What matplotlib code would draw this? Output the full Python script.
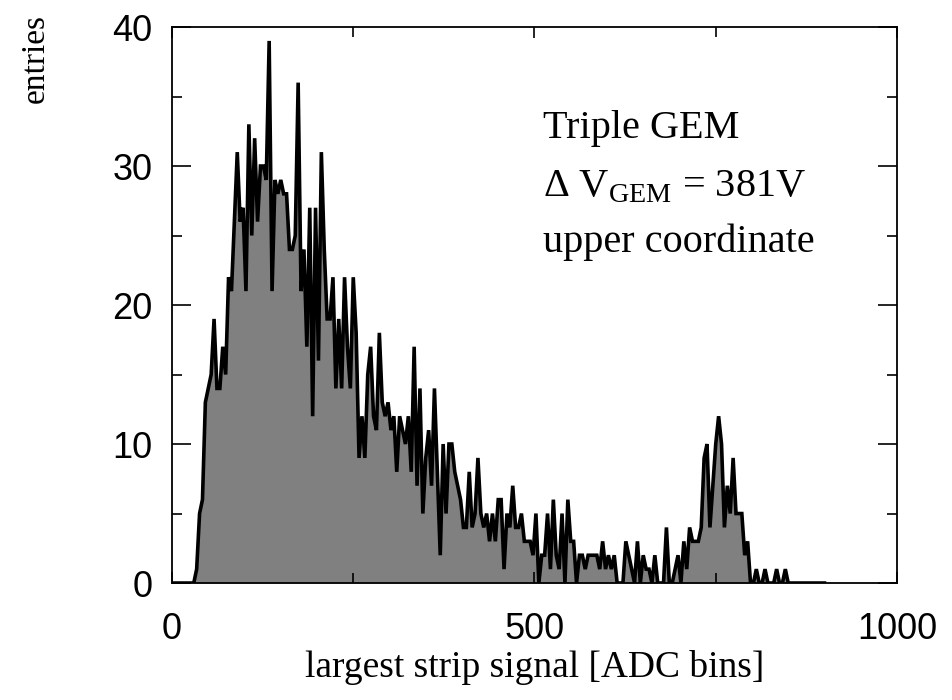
import numpy as np
import matplotlib
matplotlib.use("Agg")
import matplotlib.pyplot as plt
from matplotlib.ticker import MultipleLocator

# histogram: 225 bins of 4 ADC counts, 0..900
bin_width = 4
entries = [
    0, 0, 0, 0, 0, 0, 0, 0, 1, 5,
    6, 13, 14, 15, 19, 14, 14, 17, 15, 22,
    21, 26, 31, 26, 27, 21, 33, 25, 32, 26,
    30, 30, 29, 39, 21, 29, 28, 29, 28, 28,
    24, 24, 25, 36, 21, 24, 17, 27, 12, 27,
    16, 31, 24, 19, 19, 22, 14, 19, 14, 22,
    17, 14, 22, 18, 9, 12, 9, 15, 17, 12,
    11, 18, 13, 12, 13, 11, 12, 8, 12, 11,
    10, 12, 8, 17, 7, 14, 5, 9, 11, 7,
    14, 8, 2, 10, 5, 10, 10, 8, 7, 6,
    4, 4, 8, 4, 5, 9, 5, 4, 5, 3,
    5, 3, 6, 6, 1, 5, 4, 7, 4, 4,
    5, 3, 3, 3, 2, 5, 0, 2, 2, 5,
    1, 6, 2, 1, 5, 0, 6, 3, 3, 0,
    2, 2, 1, 2, 2, 2, 2, 1, 3, 1,
    2, 1, 2, 0, 0, 0, 3, 2, 1, 0,
    3, 0, 2, 1, 1, 0, 2, 0, 0, 0,
    4, 0, 0, 1, 2, 0, 3, 1, 4, 3,
    3, 3, 4, 9, 10, 4, 7, 10, 12, 10,
    4, 7, 5, 9, 5, 5, 5, 2, 3, 0,
    0, 1, 0, 0, 1, 0, 0, 0, 1, 0,
    0, 1, 0, 0, 0, 0, 0, 0, 0, 0,
    0, 0, 0, 0, 0,
]
label_lines = ["Triple GEM", "Δ V$_{\\mathrm{GEM}}$ = 381V", "upper coordinate"]

plt.rcParams['mathtext.fontset'] = 'custom'
plt.rcParams['mathtext.rm'] = 'Liberation Serif'

counts = np.array(entries)
centers = np.arange(len(counts)) * bin_width + bin_width / 2
x = np.concatenate([[0], centers, [len(counts) * bin_width]])
y = np.concatenate([[0], counts, [0]])

fig = plt.figure(figsize=(9.53, 7.0), dpi=100)
ax = fig.add_axes([0.1805, 0.1671, 0.7607, 0.7943])

ax.fill_between(x, y, 0, color='#808080', lw=0)
ax.plot(x, y, color='black', lw=2.6, solid_joinstyle='miter')

ax.set_xlim(0, 1000)
ax.set_ylim(0, 40)
ax.xaxis.set_major_locator(MultipleLocator(500))
ax.xaxis.set_minor_locator(MultipleLocator(250))
ax.yaxis.set_major_locator(MultipleLocator(10))
ax.yaxis.set_minor_locator(MultipleLocator(5))
ax.tick_params(which='both', direction='in', top=True, right=True, width=1.2)
ax.tick_params(which='major', length=14, labelsize=26, pad=14)
ax.tick_params(which='minor', length=7)
ax.tick_params(axis='x', which='major', length=8, pad=21)
for lab in ax.get_xticklabels() + ax.get_yticklabels():
    lab.set_family('Liberation Sans')
for s in ax.spines.values():
    s.set_linewidth(1.3)

ax.set_xlabel("largest strip signal [ADC bins]", fontsize=27,
              family='Liberation Serif', labelpad=2)
fig.text(0.037, 0.98, "entries", rotation=90, ha='center', va='top',
         fontsize=24, family='Liberation Serif')

for txt, yv in zip(label_lines, [32.0, 27.8, 23.8]):
    ax.text(512, yv, txt, fontsize=29, family='Liberation Serif', va='baseline')

fig.savefig("out.png", dpi=100)
